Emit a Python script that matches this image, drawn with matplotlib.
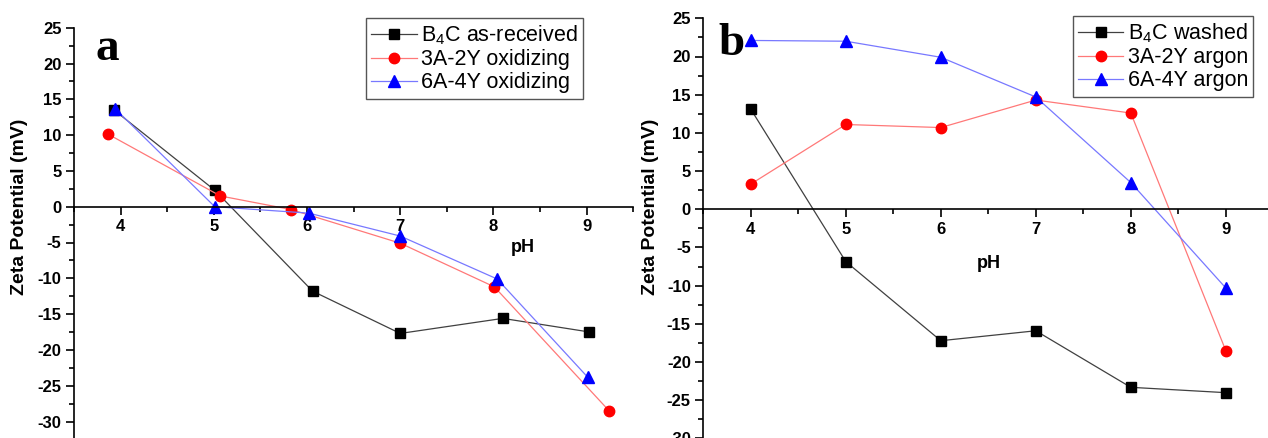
import matplotlib
matplotlib.use('Agg')
import matplotlib.pyplot as plt
from matplotlib.ticker import MultipleLocator, FixedLocator

plt.rcParams['font.family'] = ['Liberation Sans', 'DejaVu Sans']
plt.rcParams['axes.unicode_minus'] = False
plt.rcParams['mathtext.fontset'] = 'custom'
plt.rcParams['mathtext.rm'] = 'Liberation Sans'
plt.rcParams['mathtext.it'] = 'Liberation Sans:italic'

# ---------------- data ----------------
# panel a
a_labels = ["B$_4$C as-received", "3A-2Y oxidizing", "6A-4Y oxidizing"]
a_b4c_ph = [3.93, 5.01, 6.06, 7.0, 8.1, 9.03]
a_b4c_zeta = [13.5, 2.3, -11.8, -17.7, -15.6, -17.5]
a_3a2y_ph = [3.87, 5.07, 5.83, 7.0, 8.01, 9.24]
a_3a2y_zeta = [10.1, 1.5, -0.4, -5.1, -11.2, -28.5]
a_6a4y_ph = [3.94, 5.01, 6.02, 7.0, 8.04, 9.01]
a_6a4y_zeta = [13.7, 0.0, -0.9, -4.1, -10.1, -23.8]

# panel b
b_labels = ["B$_4$C washed", "3A-2Y argon", "6A-4Y argon"]
b_ph = [4, 5, 6, 7, 8, 9]
b_b4c_zeta = [13.1, -6.85, -17.2, -15.9, -23.3, -24.0]
b_3a2y_zeta = [3.3, 11.1, 10.7, 14.3, 12.6, -18.5]
b_6a4y_zeta = [22.1, 22.0, 19.9, 14.7, 3.5, -10.3]

x_ticks = [4, 5, 6, 7, 8, 9]
y_ticks = [-30, -25, -20, -15, -10, -5, 0, 5, 10, 15, 20, 25]

W, H = 1268, 438
fig = plt.figure(figsize=(W / 100, H / 100), dpi=100)

YLO, YHI = -35, 25


def axes_rect(left, right, top_px, ppu):
    bottom_px = top_px + (YHI - YLO) * ppu
    return [left / W, 1 - bottom_px / H, (right - left) / W, (bottom_px - top_px) / H]


def style(ax):
    ax.set_xlim(3.5, 9.5)
    ax.set_ylim(YLO, YHI)
    for s in ('top', 'right'):
        ax.spines[s].set_visible(False)
    ax.spines['bottom'].set_position(('data', 0))
    for s in ('left', 'bottom'):
        ax.spines[s].set_linewidth(1.2)
    ax.xaxis.set_major_locator(FixedLocator(x_ticks))
    ax.xaxis.set_minor_locator(MultipleLocator(0.5))
    ax.yaxis.set_major_locator(FixedLocator(y_ticks))
    ax.yaxis.set_minor_locator(MultipleLocator(2.5))
    ax.tick_params(which='major', direction='out', length=6, width=1.2,
                   labelsize=12, pad=3)
    ax.tick_params(which='minor', direction='out', length=3.5, width=1.2)
    for lab in ax.get_xticklabels() + ax.get_yticklabels():
        lab.set_fontweight('bold')
    ax.patch.set_alpha(0)


def series(ax, x, y, line_c, mk_c, marker, ms, label):
    ax.plot(x, y, color=line_c, lw=0.9, marker=marker, ms=ms,
            markerfacecolor=mk_c, markeredgecolor=mk_c, label=label,
            clip_on=False)


# ---------- panel a ----------
axa = fig.add_axes(axes_rect(74, 633.3, 27.7, 7.16))
style(axa)
series(axa, a_b4c_ph, a_b4c_zeta, '#404040', 'black', 's', 7.5, a_labels[0])
series(axa, a_3a2y_ph, a_3a2y_zeta, '#ff7878', 'red', 'o', 7.5, a_labels[1])
series(axa, a_6a4y_ph, a_6a4y_zeta, '#7878ff', 'blue', '^', 8.5, a_labels[2])

# ---------- panel b ----------
axb = fig.add_axes(axes_rect(703.3, 1273.3, 18.3, 7.64))
style(axb)
series(axb, b_ph, b_b4c_zeta, '#404040', 'black', 's', 7.5, b_labels[0])
series(axb, b_ph, b_3a2y_zeta, '#ff7878', 'red', 'o', 7.5, b_labels[1])
series(axb, b_ph, b_6a4y_zeta, '#7878ff', 'blue', '^', 8.5, b_labels[2])

# legends
for ax, (lx, ly) in ((axa, (366, 18)), (axb, (1072.7, 16))):
    leg = ax.legend(loc='upper left', bbox_to_anchor=(lx / W, 1 - ly / H),
                    bbox_transform=fig.transFigure, borderaxespad=0,
                    fontsize=15.5, frameon=True, fancybox=False,
                    edgecolor='#555555', framealpha=1, labelspacing=0.1,
                    handlelength=2.1, handletextpad=0.2, borderpad=0.25)
    leg.get_frame().set_linewidth(1.0)

# axis labels
fig.text(20 / W, 1 - 207 / H, "Zeta Potential (mV)", rotation=90,
         ha='center', va='center', fontsize=14, fontweight='bold')
fig.text(650.5 / W, 1 - 207 / H, "Zeta Potential (mV)", rotation=90,
         ha='center', va='center', fontsize=14, fontweight='bold')
fig.text(523 / W, 1 - 248 / H, "pH", ha='center', va='center',
         fontsize=13, fontweight='bold')
fig.text(989 / W, 1 - 263 / H, "pH", ha='center', va='center',
         fontsize=13, fontweight='bold')

# panel letters
fig.text(107.5 / W, 1 - 60 / H, "a", ha='center', va='baseline',
         fontsize=34, fontweight='bold', family='Liberation Serif')
fig.text(731.5 / W, 1 - 55 / H, "b", ha='center', va='baseline',
         fontsize=34, fontweight='bold', family='Liberation Serif')

fig.savefig('out.png', dpi=100)
